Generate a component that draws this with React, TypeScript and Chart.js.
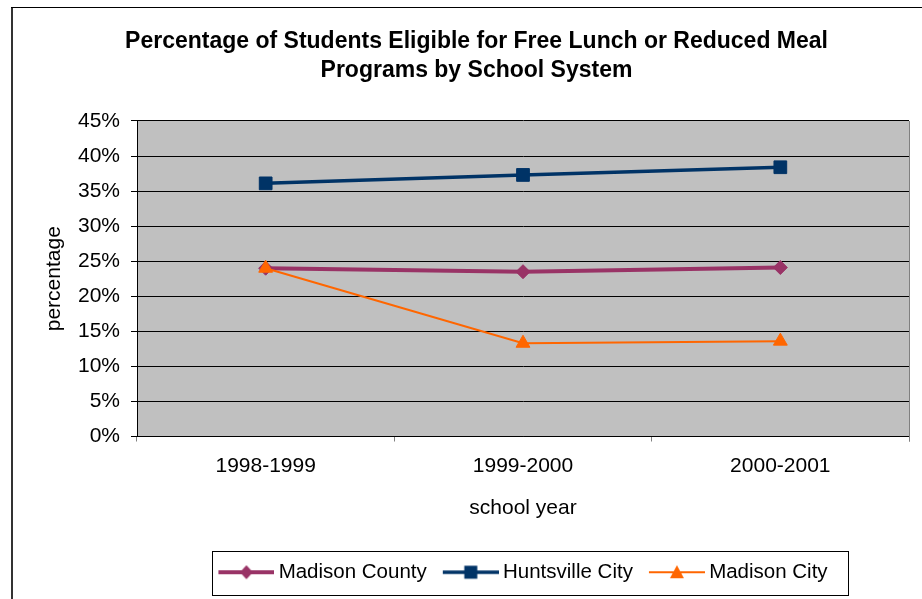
import React, { useEffect, useRef } from "react";
import { Chart, registerables } from "chart.js";

Chart.register(...registerables);

const FONT = "'Liberation Sans', Arial, sans-serif";

const titleLines = [
  "Percentage of Students Eligible for Free Lunch or Reduced Meal",
  "Programs by School System",
];
const categories = ["1998-1999", "1999-2000", "2000-2001"];
const seriesNames = ["Madison County", "Huntsville City", "Madison City"];
const madisonCounty = [24.0, 23.5, 24.1];
const huntsvilleCity = [36.1, 37.3, 38.4];
const madisonCity = [24.0, 13.3, 13.6];
const yMin = 0;
const yMax = 45;
const yStep = 5;
const xAxisTitle = "school year";
const yAxisTitle = "percentage";

const colors = ["#993366", "#003366", "#FF6600"];
const lineWidths = [4, 3.5, 2];
const shapes = ["diamond", "square", "triangle"];

function makeMarker(color: string, lw: number, shape: string): HTMLCanvasElement {
  const c = document.createElement("canvas");
  c.width = 62;
  c.height = 20;
  const ctx = c.getContext("2d")!;
  ctx.strokeStyle = color;
  ctx.fillStyle = color;
  ctx.lineWidth = lw;
  ctx.beginPath();
  ctx.moveTo(6, 10);
  ctx.lineTo(62, 10);
  ctx.stroke();
  const cx = 34;
  const cy = 10;
  ctx.beginPath();
  if (shape === "diamond") {
    ctx.moveTo(cx, cy - 7);
    ctx.lineTo(cx + 6.5, cy);
    ctx.lineTo(cx, cy + 7);
    ctx.lineTo(cx - 6.5, cy);
    ctx.closePath();
  } else if (shape === "square") {
    ctx.rect(cx - 6.5, cy - 6.5, 13, 13);
  } else {
    ctx.moveTo(cx, cy - 7);
    ctx.lineTo(cx + 7, cy + 6);
    ctx.lineTo(cx - 7, cy + 6);
    ctx.closePath();
  }
  ctx.fill();
  return c;
}

const backgroundPlugin = {
  id: "bgFrame",
  beforeDraw(chart: any) {
    const { ctx, chartArea } = chart;
    ctx.save();
    ctx.fillStyle = "#ffffff";
    ctx.fillRect(0, 0, chart.width, chart.height);
    ctx.fillStyle = "#333333";
    ctx.fillRect(11, 7, 2, chart.height - 7);
    ctx.fillStyle = "#000000";
    ctx.fillRect(11, 7, chart.width - 11, 1);
    ctx.fillStyle = "#C0C0C0";
    ctx.fillRect(chartArea.left, chartArea.top, chartArea.right - chartArea.left, chartArea.bottom - chartArea.top);
    ctx.restore();
  },
  afterDraw(chart: any) {
    const { ctx, chartArea } = chart;
    ctx.save();
    ctx.strokeStyle = "#808080";
    ctx.lineWidth = 1;
    ctx.beginPath();
    ctx.moveTo(chartArea.right + 0.5, chartArea.top);
    ctx.lineTo(chartArea.right + 0.5, chartArea.bottom + 5);
    ctx.stroke();
    const legend = chart.legend;
    const hb = legend && legend.legendHitBoxes;
    if (hb && hb.length) {
      const first = hb[0];
      const last = hb[hb.length - 1];
      const cy = first.top + first.height / 2;
      const left = Math.round(first.left) - 6;
      const right = Math.round(last.left + last.width) + 20;
      const top = Math.round(cy - 21);
      const bottom = Math.round(cy + 23);
      ctx.strokeStyle = "#000000";
      ctx.lineWidth = 1;
      ctx.strokeRect(left + 0.5, top + 0.5, right - left, bottom - top);
    }
    ctx.restore();
  },
};

export default function App() {
  const ref = useRef<HTMLCanvasElement | null>(null);

  useEffect(() => {
    document.body.style.margin = "0";
    const canvas = ref.current;
    if (!canvas) return;
    const markers = colors.map((c, i) => makeMarker(c, lineWidths[i], shapes[i]));
    const seriesData = [madisonCounty, huntsvilleCity, madisonCity];
    const pointStyles = ["rectRot", "rect", "triangle"];
    const pointRadii = [7, 9, 8];
    const orders = [3, 2, 1];

    const chart = new Chart(canvas, {
      type: "line",
      data: {
        labels: categories,
        datasets: seriesNames.map((name, i) => ({
          label: name,
          data: seriesData[i],
          borderColor: colors[i],
          backgroundColor: colors[i],
          borderWidth: lineWidths[i],
          pointStyle: pointStyles[i] as any,
          pointRadius: pointRadii[i],
          pointBorderWidth: 1,
          pointBackgroundColor: colors[i],
          pointBorderColor: colors[i],
          tension: 0,
          fill: false,
          order: orders[i],
        })),
      },
      options: {
        responsive: false,
        animation: false,
        devicePixelRatio: 1,
        layout: { padding: { left: 44, right: 13, top: 0, bottom: 6.5 } },
        plugins: {
          tooltip: { enabled: false },
          title: {
            display: true,
            text: titleLines,
            color: "#000",
            font: { family: FONT, size: 23, weight: "bold", lineHeight: 1.26 },
            padding: { top: 27, bottom: 36 },
          },
          legend: {
            display: true,
            position: "bottom",
            fullSize: false,
            labels: {
              usePointStyle: true,
              pointStyleWidth: 50,
              boxHeight: 21,
              padding: 16,
              color: "#000",
              font: { family: FONT, size: 20.5 },
              generateLabels: (ch: any) =>
                ch.data.datasets.map((ds: any, i: number) => ({
                  text: ds.label,
                  pointStyle: markers[i],
                  datasetIndex: i,
                  fillStyle: colors[i],
                  strokeStyle: colors[i],
                  lineWidth: 0,
                  hidden: false,
                  fontColor: "#000",
                })),
            },
          },
        },
        scales: {
          x: {
            type: "category",
            offset: true,
            afterFit: (s: any) => {
              s.height = 109.5;
            },
            grid: {
              offset: true,
              drawOnChartArea: false,
              tickLength: 5,
              color: "#808080",
            },
            border: { color: "#000", width: 1 },
            ticks: { color: "#000", padding: 12, font: { family: FONT, size: 21 }, maxRotation: 0 },
            title: {
              display: true,
              text: xAxisTitle,
              color: "#000",
              font: { family: FONT, size: 21 },
              padding: { top: 0, bottom: 25 },
            },
          },
          y: {
            min: yMin,
            max: yMax,
            afterFit: (s: any) => {
              s.width = 93;
            },
            grid: { color: "#000", lineWidth: 1, tickLength: 6 },
            border: { color: "#000", width: 1 },
            ticks: {
              stepSize: yStep,
              color: "#000",
              padding: 11,
              font: { family: FONT, size: 21 },
              callback: (v: any) => v + "%",
            },
            title: {
              display: true,
              text: yAxisTitle,
              color: "#000",
              font: { family: FONT, size: 21, lineHeight: 1 },
              padding: { top: 0, bottom: 0 },
            },
          },
        },
      },
      plugins: [backgroundPlugin],
    } as any);

    return () => chart.destroy();
  }, []);

  return (
    <div style={{ width: 922, height: 599, position: "relative" }}>
      <canvas ref={ref} width={922} height={599} style={{ display: "block", width: 922, height: 599 }} />
    </div>
  );
}
